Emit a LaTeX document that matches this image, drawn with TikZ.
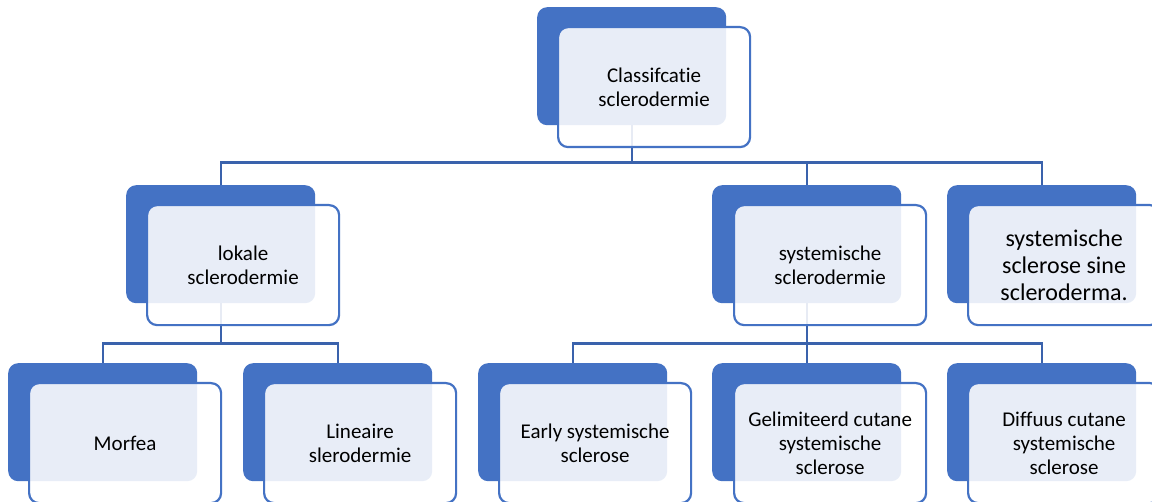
\documentclass[tikz,border=0pt]{standalone}
\usepackage{fontspec}
\setmainfont{Carlito}[Ligatures={NoCommon}]
\definecolor{accent}{HTML}{4472C4}
\definecolor{conn}{HTML}{3A62AC}
\begin{document}
\begin{tikzpicture}[x=1bp,y=-1bp,
  backbox/.style={fill=accent, draw=none, rounded corners=10bp, minimum width=189bp, minimum height=118bp, inner sep=0pt, anchor=north west},
  frontbox/.style={draw=accent, line width=2.2bp, fill=white, fill opacity=0.88, text opacity=1, text=black, rounded corners=10bp, minimum width=192bp, minimum height=120bp, inner sep=0pt, anchor=north west, align=center, font=\fontsize{21bp}{24bp}\selectfont},
  bigtext/.style={font=\fontsize{24bp}{27bp}\selectfont},
  link/.style={draw=conn, line width=2.4bp}]
\useasboundingbox[fill=white] (0,0) rectangle (1152,502);
% back boxes
\node[backbox] (t)  at (537,7) {};
\node[backbox] (l)  at (126,185) {};
\node[backbox] (s)  at (712,185) {};
\node[backbox] (n)  at (947,185) {};
\node[backbox] (m)  at (8,363) {};
\node[backbox] (li) at (243,363) {};
\node[backbox] (e)  at (478,363) {};
\node[backbox] (g)  at (712,363) {};
\node[backbox] (d)  at (947,363) {};
% connectors
\draw[link] (t.south) -- +(0,37) -| (l.north);
\draw[link] (t.south) -- +(0,37) -| (s.north);
\draw[link] (t.south) -- +(0,37) -| (n.north);
\draw[link] (l.south) -- +(0,40) -| (m.north);
\draw[link] (l.south) -- +(0,40) -| (li.north);
\draw[link] (s.south) -- +(0,40) -| (e.north);
\draw[link] (s.south) -- +(0,40) -| (g.north);
\draw[link] (s.south) -- +(0,40) -| (d.north);
% front boxes with text
\node[frontbox] (tf)  at (557,26)  {Classifcatie\\sclerodermie};
\node[frontbox] (lf)  at (146,204) {lokale\\sclerodermie};
\node[frontbox] (sf)  at (733,204) {systemische\\sclerodermie};
\node[frontbox,bigtext] (nf)  at (967,204) {systemische\\sclerose sine\\scleroderma.};
\node[frontbox] (mf)  at (28,382)  {Morfea};
\node[frontbox] (lif) at (263,382) {Lineaire\\slerodermie};
\node[frontbox] (ef)  at (498,382) {Early systemische\\sclerose};
\node[frontbox] (gf)  at (733,382) {Gelimiteerd cutane\\systemische\\sclerose};
\node[frontbox] (df)  at (967,382) {Diffuus cutane\\systemische\\sclerose};
\end{tikzpicture}
\end{document}
